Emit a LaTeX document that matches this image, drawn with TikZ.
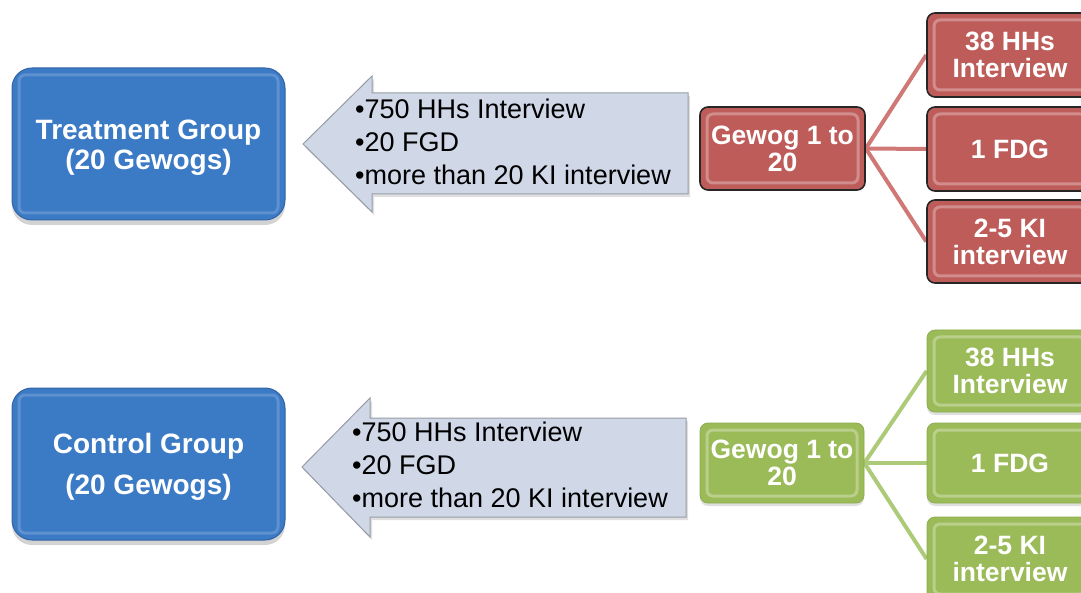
\documentclass[tikz,border=0pt]{standalone}
\usepackage{fontspec}
\setmainfont{Liberation Sans}
\usetikzlibrary{shadows,backgrounds}
\definecolor{bluefill}{RGB}{59,122,197}
\definecolor{blueline}{RGB}{50,100,165}
\definecolor{redfill}{RGB}{190,92,90}
\definecolor{redconn}{RGB}{207,120,118}
\definecolor{greenfill}{RGB}{155,187,89}
\definecolor{greenedge}{RGB}{140,172,80}
\definecolor{greenconn}{RGB}{172,202,120}
\definecolor{arrowfill}{RGB}{208,216,232}
\definecolor{arrowline}{RGB}{150,155,165}
\begin{document}
\begin{tikzpicture}[x=1pt,y=-1pt,
  bevel/.style 2 args={path picture={\draw[#1,line width=3pt,opacity=#2,rounded corners=6pt]
     ([shift={(7pt,-7pt)}]path picture bounding box.north west) rectangle
     ([shift={(-7pt,7pt)}]path picture bounding box.south east);}},
  groupbox/.style={rounded corners=20pt, minimum width=273pt, minimum height=152pt,
     inner sep=0pt, fill=bluefill, draw=blueline, line width=1pt,
     bevel={white}{0.18},
     drop shadow={opacity=0.35,shadow xshift=0pt,shadow yshift=-5pt}},
  grouptext/.style={inner sep=0pt, text=white, align=center,
     font=\fontsize{28}{#1}\selectfont\bfseries},
  smallbox/.style={rounded corners=8pt, inner sep=0pt, text=white, align=center,
     font=\fontsize{26.5}{27}\selectfont\bfseries},
  redbox/.style={smallbox, fill=redfill, draw=black!85, line width=1.6pt, bevel={white}{0.3}},
  greenbox/.style={smallbox, fill=greenfill, draw=greenedge, line width=0.8pt, bevel={white}{0.3},
     drop shadow={opacity=0.25,shadow xshift=0pt,shadow yshift=-3pt}},
  arrowshape/.style={fill=arrowfill, draw=arrowline, line width=1pt, line join=miter,
     drop shadow={opacity=0.25,shadow xshift=2pt,shadow yshift=-3pt}},
  listtext/.style={inner sep=0pt, align=left, text=black,
     font=\fontsize{27}{33}\selectfont},
  redline/.style={draw=redconn, line width=4pt},
  greenline/.style={draw=greenconn, line width=4pt}
]
\useasboundingbox (0,0) rectangle (1081,593);
\clip (0,0) rectangle (1081,593);

% ---------- Treatment row ----------
\node[groupbox] (tgroup) at (148.5,144) {};
\node[grouptext=30] (tgrouptext) at (148.5,148) {Treatment Group\\(20 Gewogs)};

\draw[arrowshape] (688,93) -- (372,93) -- (372,76) -- (303,144) -- (372,212) -- (372,194) -- (688,194) -- cycle;
\node[listtext, anchor=west] (tlist) at (355,142) {•750 HHs Interview\\•20 FGD\\•more than 20 KI interview};

\node[redbox, minimum width=165pt, minimum height=83pt] (tgewog) at (782.5,148.5) {Gewog 1 to\\20};
\node[redbox, minimum width=166pt, minimum height=84pt] (t1) at (1010,55) {38 HHs\\Interview};
\node[redbox, minimum width=166pt, minimum height=84pt] (t2) at (1010,149) {1 FDG};
\node[redbox, minimum width=166pt, minimum height=83pt] (t3) at (1010,241.5) {2-5 KI\\interview};

\begin{scope}[on background layer]
\draw[redline] (tgewog.east) -- (t1.west);
\draw[redline] (tgewog.east) -- (t2.west);
\draw[redline] (tgewog.east) -- (t3.west);
\end{scope}

% ---------- Control row ----------
\node[groupbox] (cgroup) at (148.5,464) {};
\node[grouptext=41] (cgrouptext) at (148.5,467) {Control Group\\(20 Gewogs)};

\draw[arrowshape] (686,418) -- (370,418) -- (370,398) -- (302,467) -- (370,537) -- (370,517) -- (686,517) -- cycle;
\node[listtext, anchor=west] (clist) at (352,465) {•750 HHs Interview\\•20 FGD\\•more than 20 KI interview};

\node[greenbox, minimum width=164pt, minimum height=80pt] (cgewog) at (782,463) {Gewog 1 to\\20};
\node[greenbox, minimum width=166pt, minimum height=82pt] (c1) at (1010,371) {38 HHs\\Interview};
\node[greenbox, minimum width=166pt, minimum height=80pt] (c2) at (1010,463) {1 FDG};
\node[greenbox, minimum width=166pt, minimum height=84pt] (c3) at (1010,559) {2-5 KI\\interview};

\begin{scope}[on background layer]
\draw[greenline] (cgewog.east) -- (c1.west);
\draw[greenline] (cgewog.east) -- (c2.west);
\draw[greenline] (cgewog.east) -- (c3.west);
\end{scope}
\end{tikzpicture}
\end{document}
